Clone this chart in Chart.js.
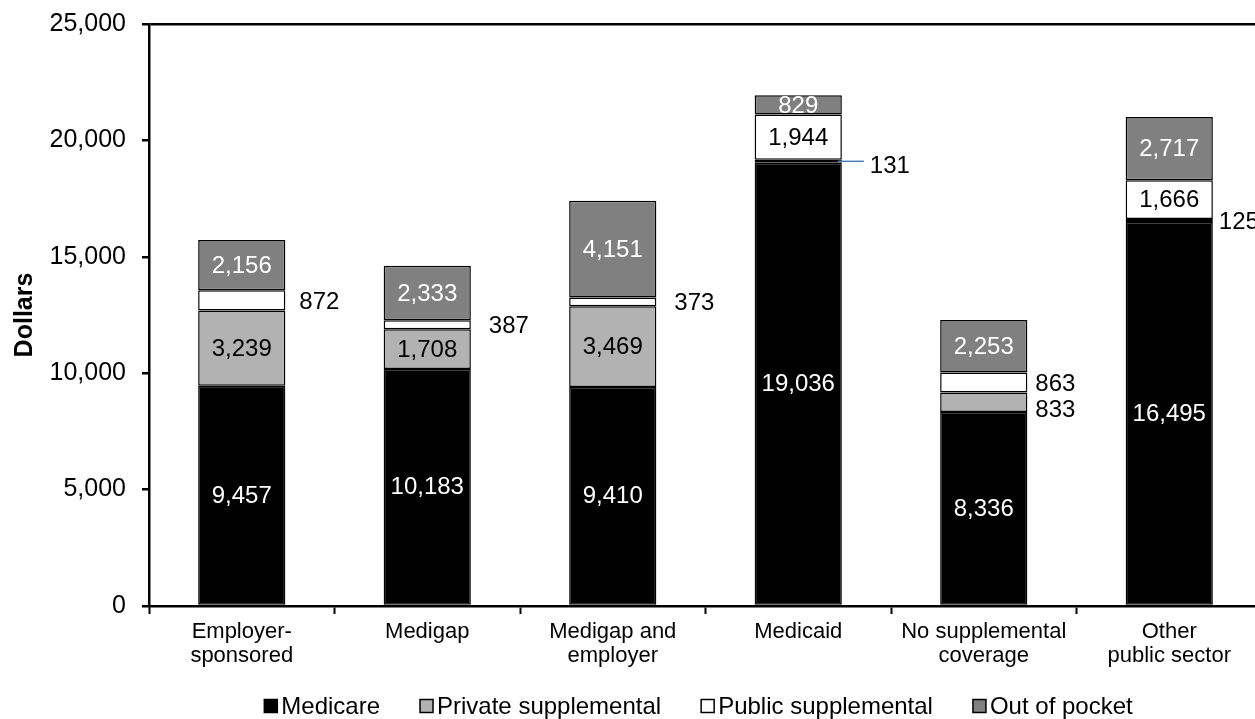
<!DOCTYPE html>
<html>
<head>
<meta charset="utf-8">
<script src="https://cdn.jsdelivr.net/npm/chart.js@4"></script>
<style>
  html, body { margin: 0; padding: 0; overflow: hidden; background: #fff; }
</style>
</head>
<body>
<canvas id="costChart" width="1270" height="719"></canvas>
<script>
// data
var categories = [['Employer-', 'sponsored'], ['Medigap'], ['Medigap and', 'employer'], ['Medicaid'], ['No supplemental', 'coverage'], ['Other', 'public sector']];
var seriesNames = ['Medicare', 'Private supplemental', 'Public supplemental', 'Out of pocket'];
var medicare = [9457, 10183, 9410, 19036, 8336, 16495];
var privateSupp = [3239, 1708, 3469, 131, 833, 125];
var publicSupp = [872, 387, 373, 1944, 863, 1666];
var outOfPocket = [2156, 2333, 4151, 829, 2253, 2717];
var yTicks = [0, 5000, 10000, 15000, 20000, 25000];

var FONT = "'Liberation Sans', Arial, sans-serif";
var fills = ['#000000', '#b2b2b2', '#ffffff', '#808080'];
var textColors = ['#fff', '#000', '#000', '#fff'];

// small segments get their label outside the bar, a few need nudging
var labelTweaks = {
  '1:3': { leader: true },
  '1:4': { dx: 8, dy: 6 },
  '2:4': { dx: 8 },
  '1:5': { dx: 6 },
  '2:1': { dx: 18 },
  '2:2': { dx: 18 }
};

function fmt(v) { return v.toLocaleString('en-US'); }

var segLabels = {
  id: 'segLabels',
  afterDatasetsDraw: function (chart) {
    var ctx = chart.ctx;
    ctx.save();
    ctx.font = '24px ' + FONT;
    ctx.textBaseline = 'middle';
    chart.data.datasets.forEach(function (ds, di) {
      var meta = chart.getDatasetMeta(di);
      meta.data.forEach(function (bar, i) {
        var v = ds.data[i];
        var p = bar.getProps(['x', 'y', 'base', 'width'], true);
        var cy = (p.y + p.base) / 2;
        var outside = (di === 1 || di === 2) && v < 1000;
        if (!outside) {
          ctx.textAlign = 'center';
          ctx.fillStyle = textColors[di];
          ctx.fillText(fmt(v), p.x, cy + 1);
          return;
        }
        var t = labelTweaks[di + ':' + i] || {};
        var right = p.x + p.width / 2;
        ctx.textAlign = 'left';
        ctx.fillStyle = '#000';
        if (t.leader) {
          ctx.strokeStyle = '#4a7ebb';
          ctx.lineWidth = 1.5;
          ctx.beginPath();
          ctx.moveTo(right - 4, cy);
          ctx.lineTo(right + 22, cy);
          ctx.stroke();
          ctx.fillText(fmt(v), right + 28, cy + 5);
        } else {
          ctx.fillText(fmt(v), right + (t.dx || 14), cy + 2 + (t.dy || 0));
        }
      });
    });
    ctx.restore();
  }
};

var bottomLegend = {
  id: 'bottomLegend',
  afterDraw: function (chart) {
    var ctx = chart.ctx;
    var area = chart.chartArea;
    var box = 13, gapAfterBox = 4, itemGap = 40;
    ctx.save();
    ctx.font = '24px ' + FONT;
    ctx.textBaseline = 'middle';
    ctx.textAlign = 'left';
    var items = chart.data.datasets.map(function (ds) {
      return { text: ds.label, color: ds.backgroundColor, w: box + gapAfterBox + ctx.measureText(ds.label).width };
    });
    var total = items.reduce(function (s, it) { return s + it.w; }, 0) + itemGap * (items.length - 1);
    var x = (area.left + area.right) / 2 - 7 - total / 2;
    var y = 706;
    items.forEach(function (it) {
      ctx.fillStyle = it.color;
      ctx.fillRect(x, y - box / 2, box, box);
      ctx.strokeStyle = '#000';
      ctx.lineWidth = 1.5;
      ctx.strokeRect(x, y - box / 2, box, box);
      ctx.fillStyle = '#000';
      ctx.fillText(it.text, x + box + gapAfterBox, y + 1);
      x += it.w + itemGap;
    });
    ctx.restore();
  }
};

var seriesData = [medicare, privateSupp, publicSupp, outOfPocket];

var ctx = document.getElementById('costChart').getContext('2d');
var myChart = new Chart(ctx, {
  type: 'bar',
  data: {
    labels: categories,
    datasets: seriesData.map(function (vals, k) {
      return {
        label: seriesNames[k],
        data: vals,
        backgroundColor: fills[k],
        borderColor: '#000',
        borderWidth: 1.5,
        borderSkipped: false,
        barPercentage: 0.47,
        categoryPercentage: 1
      };
    })
  },
  options: {
    responsive: false,
    animation: false,
    devicePixelRatio: 1,
    layout: { padding: { left: 10, right: 8, top: 24, bottom: 0 } },
    plugins: { legend: { display: false }, tooltip: { enabled: false } },
    scales: {
      x: {
        stacked: true,
        grid: { offset: true, drawOnChartArea: false, drawTicks: true, tickLength: 8, tickColor: '#000', tickWidth: 2 },
        border: { display: true, color: '#000', width: 2.5 },
        ticks: { color: '#000', font: { family: FONT, size: 22, lineHeight: 1.1 }, padding: 6, maxRotation: 0, autoSkip: false },
        afterFit: function (s) { s.height = 113; }
      },
      y: {
        stacked: true,
        min: 0,
        max: 25000,
        afterBuildTicks: function (s) { s.ticks = yTicks.map(function (v) { return { value: v }; }); },
        ticks: { color: '#000', font: { family: FONT, size: 25 }, padding: 16, callback: function (v) { return fmt(v); } },
        grid: {
          color: function (c) { return c.tick && c.tick.value === 25000 ? '#000' : 'rgba(0,0,0,0)'; },
          lineWidth: 2.5, tickLength: 7, tickColor: '#000', tickWidth: 2.5
        },
        border: { display: true, color: '#000', width: 2.5 },
        title: { display: true, text: 'Dollars', color: '#000', font: { family: FONT, size: 25, weight: 'bold' }, padding: 0 },
        afterFit: function (s) { s.width = 139; s.paddingTop = 0; s.paddingBottom = 0; }
      }
    }
  },
  plugins: [segLabels, bottomLegend]
});
</script>
</body>
</html>
